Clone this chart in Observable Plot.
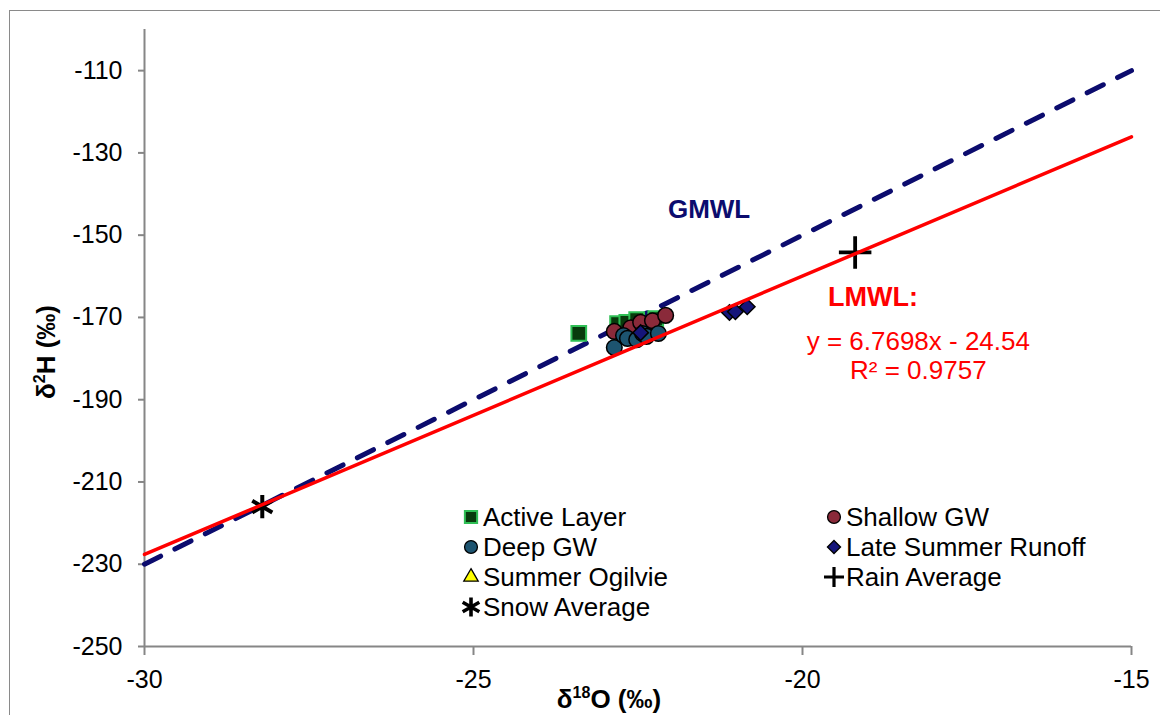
<!DOCTYPE html>
<html>
<head>
<meta charset="utf-8">
<script src="https://cdn.jsdelivr.net/npm/d3@7"></script>
<script src="https://cdn.jsdelivr.net/npm/@observablehq/plot@0.6"></script>
<style>
  body { margin: 0; background: #fff; }
  #wrap { position: relative; width: 1160px; height: 715px; overflow: hidden; background: #fff;
          font-family: "Liberation Sans", Arial, sans-serif; }
  #border { position: absolute; left: 9px; top: 10px; width: 1160px; height: 760px;
            border: 1.5px solid #8a8a8a; box-sizing: border-box; pointer-events: none; }
  .lg { position: absolute; display: flex; align-items: center; font-size: 26px; color: #000; white-space: nowrap; }
  .lg svg { margin-right: 2px; }
  .title { position: absolute; font-weight: bold; font-size: 26px; line-height: 26px; color: #000; white-space: nowrap; }
  .title sup { font-size: 16px; vertical-align: 10px; line-height: 0; }
</style>
</head>
<body>
<div id="wrap">
  <div id="chart"></div>
  <div id="border"></div>
</div>
<script>
// ---- data ----
const xTicks = [-30, -25, -20, -15];
const yTicks = [-250, -230, -210, -190, -170, -150, -130, -110];

const activeX  = [-23.40, -22.81, -22.67, -22.52, -22.23];
const activeY  = [-173.9, -171.5, -171.2, -170.5, -170.3];

const shallowX = [-22.86, -22.61, -22.39, -22.46, -22.28, -22.08];
const shallowY = [-173.4, -172.5, -172.5, -171.2, -170.8, -169.5];

const deepX    = [-22.86, -22.72, -22.66, -22.52, -22.43, -22.37, -22.19];
const deepY    = [-177.3, -174.4, -175.1, -175.4, -173.9, -174.6, -173.9];

const runoffX  = [-22.46, -21.11, -21.02, -20.84];
const runoffY  = [-173.7, -168.8, -168.6, -167.4];

const rainX = [-19.20];
const rainY = [-154.2];
const snowX = [-28.21];
const snowY = [-216.0];

// meteoric water lines (end points)
const gmwlX = [-30, -15];
const gmwlY = [-230, -110];
const lmwlX = [-30, -15];
const lmwlY = [-227.63, -126.09];

const legendLabels = ["Active Layer", "Shallow GW", "Deep GW", "Late Summer Runoff",
                      "Summer Ogilvie", "Rain Average", "Snow Average"];

// ---- build tables ----
const pts = (xs, ys) => xs.map((x, i) => ({x, y: ys[i]}));
const active = pts(activeX, activeY);
const shallow = pts(shallowX, shallowY);
const deep = pts(deepX, deepY);
const runoff = pts(runoffX, runoffY);
const rain = pts(rainX, rainY);
const snow = pts(snowX, snowY);
const gmwl = pts(gmwlX, gmwlY);
const lmwl = pts(lmwlX, lmwlY);

const fmt = d => String(d);
const axisGray = "#868686";
const navy = "#0c0c6e";

const chart = Plot.plot({
  width: 1160,
  height: 715,
  marginLeft: 144,
  marginRight: 29,
  marginTop: 29,
  marginBottom: 69,
  x: {domain: [-30, -15]},
  y: {domain: [-250, -100]},
  style: {fontFamily: "'Liberation Sans', Arial, sans-serif", background: "transparent", color: "#000"},
  marks: [
    Plot.ruleY([-250], {stroke: axisGray, strokeWidth: 2}),
    Plot.ruleX([-30], {stroke: axisGray, strokeWidth: 2}),
    Plot.axisX({ticks: xTicks, tickFormat: fmt, tickSize: 9, tickPadding: 15, stroke: axisGray,
                strokeWidth: 2, fontSize: 25, fill: "#000", label: null}),
    Plot.axisY({ticks: yTicks, tickFormat: fmt, tickSize: 6, tickPadding: 16, stroke: axisGray,
                strokeWidth: 2, fontSize: 25, fill: "#000", label: null}),
    Plot.line(gmwl, {x: "x", y: "y", stroke: navy, strokeWidth: 5, strokeDasharray: "18,16",
                     strokeLinecap: "round"}),
    Plot.dot(active, {x: "x", y: "y", symbol: "square", r: 8.3, fill: "#083a0c", stroke: "#2fbf55", strokeWidth: 2}),
    Plot.dot(shallow, {x: "x", y: "y", symbol: "circle", r: 7.8, fill: "#8a2a3a", stroke: "#000", strokeWidth: 1.5}),
    Plot.dot(deep, {x: "x", y: "y", symbol: "circle", r: 7.8, fill: "#1d5470", stroke: "#000", strokeWidth: 1.5}),
    Plot.dot(runoff, {x: "x", y: "y", symbol: "diamond2", r: 7, fill: "#15157a", stroke: "#000", strokeWidth: 1.5}),
    Plot.dot(rain, {x: "x", y: "y", symbol: "plus", r: 10.5, stroke: "#000", strokeWidth: 3.8}),
    Plot.dot(snow, {x: "x", y: "y", symbol: "asterisk", r: 11, stroke: "#000", strokeWidth: 4}),
    Plot.line(lmwl, {x: "x", y: "y", stroke: "#ff0000", strokeWidth: 3.5}),
    Plot.text(["GMWL"], {x: -21.42, y: -143.8, fill: navy, fontSize: 26, fontWeight: "bold"}),
    Plot.text(["LMWL:"], {x: -18.93, y: -165.05, fill: "#ff0000", fontSize: 27, fontWeight: "bold"}),
    Plot.text(["y = 6.7698x - 24.54"], {x: -18.24, y: -175.9, fill: "#ff0000", fontSize: 26}),
    Plot.text(["R² = 0.9757"], {x: -18.24, y: -182.9, fill: "#ff0000", fontSize: 26})
  ]
});
document.getElementById("chart").appendChild(chart);

// ---- legend (HTML overlay) ----
const wrap = document.getElementById("wrap");
const legendSymbols = [
  {type: d3.symbolSquare, size: 150, fill: "#083a0c", stroke: "#2fbf55", sw: 2},
  {type: d3.symbolCircle, size: 130, fill: "#8a2a3a", stroke: "#000", sw: 1.3},
  {type: d3.symbolCircle, size: 130, fill: "#1d5470", stroke: "#000", sw: 1.3},
  {type: d3.symbolDiamond2, size: 110, fill: "#15157a", stroke: "#000", sw: 1.3},
  {type: d3.symbolTriangle, size: 90, fill: "#ffff00", stroke: "#000", sw: 1.3},
  {type: d3.symbolPlus, size: 260, fill: "none", stroke: "#000", sw: 3.2},
  {type: d3.symbolAsterisk, size: 260, fill: "none", stroke: "#000", sw: 3.6}
];
legendLabels.forEach((label, i) => {
  const col = i % 2, row = Math.floor(i / 2);
  const s = legendSymbols[i];
  const div = document.createElement("div");
  div.className = "lg";
  div.style.left = (col === 0 ? 461 : 824) + "px";
  div.style.top = (502 + row * 30) + "px";
  div.style.height = "30px";
  const path = d3.symbol().type(s.type).size(s.size)();
  div.innerHTML = `<svg width="20" height="20" viewBox="-10 -10 20 20"><path d="${path}" fill="${s.fill}" stroke="${s.stroke}" stroke-width="${s.sw}"/></svg><span>${label}</span>`;
  wrap.appendChild(div);
});

// ---- axis titles ----
const yt = document.createElement("div");
yt.className = "title";
yt.innerHTML = "δ<sup>2</sup>H (‰)";
yt.style.left = "46px";
yt.style.top = "352px";
yt.style.transform = "translate(-50%, -50%) rotate(-90deg)";
wrap.appendChild(yt);

const xt = document.createElement("div");
xt.className = "title";
xt.innerHTML = "δ<sup>18</sup>O (‰)";
xt.style.left = "609px";
xt.style.top = "699px";
xt.style.transform = "translate(-50%, -50%)";
wrap.appendChild(xt);
</script>
</body>
</html>
